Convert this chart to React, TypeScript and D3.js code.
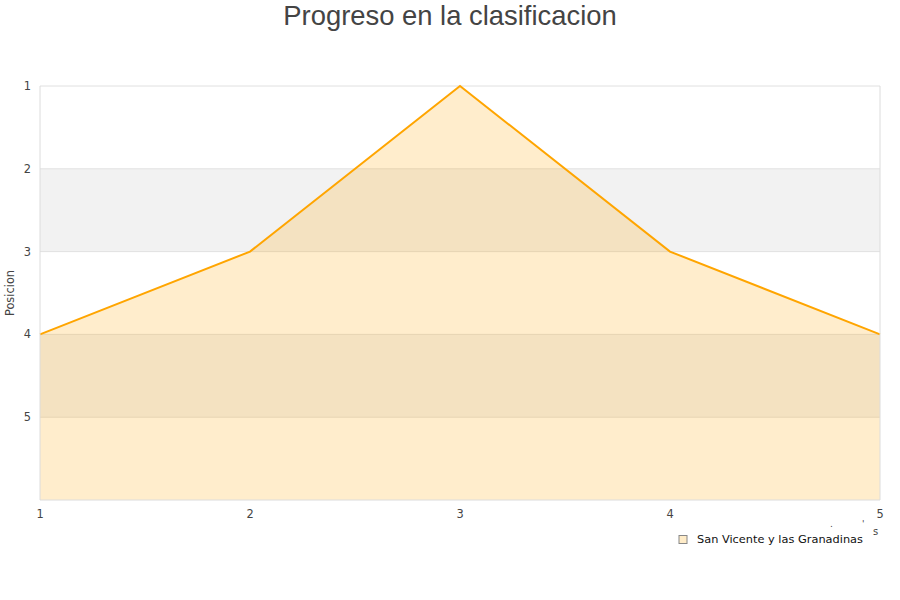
import React from "react";
import * as d3 from "d3";

const jornadas = [1, 2, 3, 4, 5];
const posiciones = [4, 3, 1, 3, 4];
const yTicks = [1, 2, 3, 4, 5];
const shadedBands = [
  [2, 3],
  [4, 5],
];
const seriesName = "San Vicente y las Granadinas";
const chartTitle = "Progreso en la clasificacion";
const yAxisTitle = "Posicion";

const W = 900;
const H = 600;
const margin = { left: 40, right: 20, top: 86, bottom: 100 };
const FONT = "'DejaVu Sans', Verdana, sans-serif";

export default function App() {
  const x = d3
    .scaleLinear()
    .domain([1, 5])
    .range([margin.left, W - margin.right]);
  const y = d3
    .scaleLinear()
    .domain([1, 6])
    .range([margin.top, H - margin.bottom]);

  const pts: [number, number][] = jornadas.map((j, i) => [j, posiciones[i]]);
  const area = d3
    .area<[number, number]>()
    .x((d) => x(d[0]))
    .y0(y(6))
    .y1((d) => y(d[1]));
  const line = d3
    .line<[number, number]>()
    .x((d) => x(d[0]))
    .y((d) => y(d[1]));

  const x0 = x(1);
  const x1 = x(5);
  const yTop = y(1);
  const yBot = y(6);

  return (
    <div style={{ position: "absolute", left: 0, top: 0 }}>
      <svg width={W} height={H} style={{ display: "block", background: "#fff" }}>
        <text
          x={W / 2}
          y={25}
          textAnchor="middle"
          fontFamily="'Liberation Sans', Arial, sans-serif"
          fontSize={27.4}
          fill="#444"
        >
          {chartTitle}
        </text>

        {shadedBands.map(([a, b]) => (
          <rect
            key={a}
            x={x0}
            y={y(a)}
            width={x1 - x0}
            height={y(b) - y(a)}
            fill="#f2f2f2"
          />
        ))}

        {yTicks.map((t) => (
          <line
            key={t}
            x1={x0}
            x2={x1}
            y1={y(t)}
            y2={y(t)}
            stroke="#e0e0e0"
            strokeWidth={1}
          />
        ))}

        <path d={area(pts) ?? ""} fill="#ffa500" fillOpacity={0.2} />
        <path
          d={line(pts) ?? ""}
          fill="none"
          stroke="#ffa500"
          strokeWidth={2}
        />

        <line x1={x0} x2={x0} y1={yTop} y2={yBot} stroke="#dcdcdc" />
        <line x1={x1} x2={x1} y1={yTop} y2={yBot} stroke="#dcdcdc" />
        <line x1={x0} x2={x1} y1={yBot} y2={yBot} stroke="#dcdcdc" />

        {yTicks.map((t) => (
          <text
            key={t}
            x={31}
            y={y(t) + 4}
            textAnchor="end"
            fontFamily={FONT}
            fontSize={11.4}
            fill="#444"
          >
            {t}
          </text>
        ))}

        {jornadas.map((j) => (
          <text
            key={j}
            x={x(j)}
            y={yBot + 18}
            textAnchor="middle"
            fontFamily={FONT}
            fontSize={11.4}
            fill="#444"
          >
            {j}
          </text>
        ))}

        <text
          transform={`translate(14,${(yTop + yBot) / 2}) rotate(-90)`}
          textAnchor="middle"
          fontFamily={FONT}
          fontSize={11.4}
          fill="#444"
        >
          {yAxisTitle}
        </text>

        <text x={830} y={527} fontFamily={FONT} fontSize={9} fill="#444">.</text>
        <text x={862} y={527} fontFamily={FONT} fontSize={9} fill="#444">'</text>
        <text x={873} y={535} fontFamily={FONT} fontSize={10} fill="#444">s</text>

        <rect
          x={679}
          y={535.5}
          width={8}
          height={8}
          fill="#ffecc8"
          stroke="#888"
          strokeWidth={1}
        />
        <text x={697} y={543} fontFamily={FONT} fontSize={11.35} fill="#111">
          {seriesName}
        </text>
      </svg>
    </div>
  );
}
